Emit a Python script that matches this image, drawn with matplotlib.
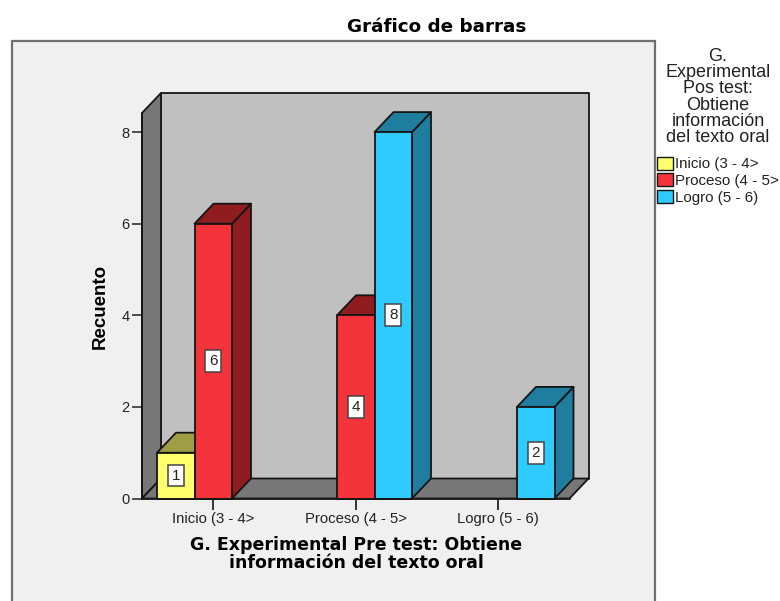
import matplotlib
matplotlib.use('Agg')
import matplotlib.pyplot as plt
from matplotlib.patches import Polygon, Rectangle, Patch

plt.rcParams['font.family'] = ['Liberation Sans', 'DejaVu Sans']

categories = ['Inicio (3 - 4>', 'Proceso (4 - 5>', 'Logro (5 - 6)']
series_names = ['Inicio (3 - 4>', 'Proceso (4 - 5>', 'Logro (5 - 6)']
inicio = [1, 0, 0]
proceso = [6, 4, 0]
logro = [0, 8, 2]
yticks = [0, 2, 4, 6, 8]

front = ['#FFFF6E', '#F4333A', '#2FCBFF']
dark = ['#A09E45', '#8F1D20', '#1F7EA0']
line = '#151515'

W, H = 780, 601
fig = plt.figure(figsize=(W / 100, H / 100), dpi=100, facecolor='white')

# grey panel, runs off the bottom of the picture
fig.patches.append(Rectangle((12 / W, -0.05), 643 / W, 1.05 - 41 / H, transform=fig.transFigure,
                             facecolor='#F0F0F0', edgecolor='#707070', linewidth=1.6, zorder=-5))

# axes = front face of the 3d box
ax = fig.add_axes([142 / W, 1 - 498.5 / H, 427.5 / W, 385.5 / H])
ax.patch.set_alpha(0)
ymax = 385.5 / 45.8
ax.set_xlim(-0.5, 2.5)
ax.set_ylim(0, ymax)
dx = 19 / 142.5
dy = 20 / 45.8
bw = 37.5 / 142.5


def poly(pts, fc, z):
    ax.add_patch(Polygon(pts, closed=True, facecolor=fc, edgecolor=line, linewidth=1.3,
                         joinstyle='round', clip_on=False, zorder=z))


x0, x1 = -0.5, 2.5
poly([(x0 + dx, dy), (x1 + dx, dy), (x1 + dx, ymax + dy), (x0 + dx, ymax + dy)], '#C0C0C0', 1)
poly([(x0, 0), (x0 + dx, dy), (x0 + dx, ymax + dy), (x0, ymax)], '#777777', 1.1)
poly([(x0, 0), (x1, 0), (x1 + dx, dy), (x0 + dx, dy)], '#777777', 1.2)

z = 2
for i in range(len(categories)):
    for s, vals in enumerate([inicio, proceso, logro]):
        v = vals[i]
        if v == 0:
            continue
        c = i + (s - 1) * bw
        l, r = c - bw / 2, c + bw / 2
        poly([(r, 0), (r + dx, dy), (r + dx, v + dy), (r, v)], dark[s], z)
        poly([(l, v), (r, v), (r + dx, v + dy), (l + dx, v + dy)], dark[s], z)
        poly([(l, 0), (r, 0), (r, v), (l, v)], front[s], z + 0.1)
        ax.text(c, v / 2, str(v), ha='center', va='center', fontsize=11, color='#222222', zorder=50,
                bbox=dict(boxstyle='square,pad=0.25', facecolor='white', edgecolor='#444444', linewidth=1.1))
        z += 1

for side in ['top', 'right']:
    ax.spines[side].set_visible(False)
for side in ['left', 'bottom']:
    ax.spines[side].set_linewidth(1.2)
    ax.spines[side].set_color(line)
    ax.spines[side].set_zorder(40)

ax.set_xticks(range(len(categories)))
ax.set_xticklabels(categories, fontsize=10.7, color='#222222')
ax.set_yticks(yticks)
ax.tick_params(axis='y', labelsize=10.5, length=7, width=1.1, pad=2, colors='#222222')
ax.tick_params(axis='x', length=8, width=1.1, pad=1.5)

ax.set_ylabel('Recuento', fontsize=13.5, fontweight='bold', labelpad=8)
ax.yaxis.set_label_coords((109 - 142) / 427.5, (498.5 - 306.5) / 385.5)
fig.text(356 / W, 1 - 554 / H, 'G. Experimental Pre test: Obtiene\ninformación del texto oral',
         ha='center', va='center', fontsize=12.5, fontweight='bold', family='DejaVu Sans', linespacing=0.93)
fig.text(437 / W, 1 - 26.5 / H, 'Gráfico de barras', ha='center', va='center', fontsize=13.2, fontweight='bold',
         family='DejaVu Sans')

fig.text(718 / W, 1 - 97 / H, 'G.\nExperimental\nPos test:\nObtiene\ninformación\ndel texto oral',
         ha='center', va='center', fontsize=13, color='#222222', linespacing=0.94)

handles = [Patch(facecolor=front[i], edgecolor=line, linewidth=1) for i in range(3)]
fig.legend(handles, series_names, loc='upper left', bbox_to_anchor=(654 / W, 1 - 153.5 / H), frameon=False,
           fontsize=10.9, handlelength=1.05, handleheight=0.95, handletextpad=0.12, labelspacing=0.14,
           borderpad=0.2, borderaxespad=0, labelcolor='#222222')

fig.savefig('out.png', dpi=100)
